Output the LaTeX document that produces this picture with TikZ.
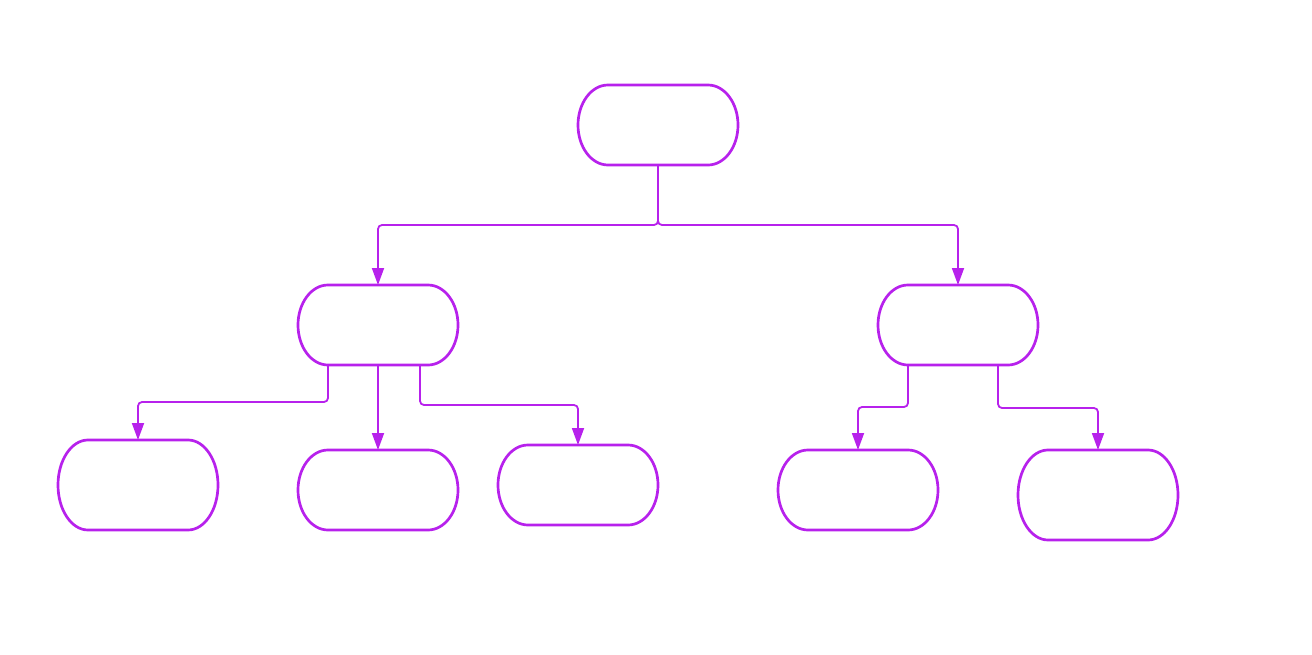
\documentclass[tikz,border=0pt]{standalone}
\usetikzlibrary{arrows.meta}
\definecolor{treecol}{RGB}{183,33,236}
\tikzset{
  box/.style={minimum width=160pt, minimum height=80pt, inner sep=0pt, outer sep=0pt},
  tall/.style={minimum height=90pt},
  outline/.style={draw=treecol, line width=2.7pt},
  link/.style={draw=treecol, line width=1.8pt, rounded corners=4pt,
    -{Triangle[width=12pt,length=17pt]}}
}
\begin{document}
\begin{tikzpicture}[x=1pt, y=-1pt]
      \useasboundingbox (0, 0) rectangle (1312, 654);
      \node[box] (root) at (658, 125) {};
      \node[box] (left) at (378, 325) {};
      \node[box] (right) at (958, 325) {};
      \node[box, tall] (leftA) at (138, 485) {};
      \node[box] (leftB) at (378, 490) {};
      \node[box] (leftC) at (578, 485) {};
      \node[box] (rightA) at (858, 490) {};
      \node[box, tall] (rightB) at (1098, 495) {};
      % pill outlines with oval ends
      \foreach \n/\r in {root/40, left/40, right/40, leftA/45, leftB/40,
                         leftC/40, rightA/40, rightB/45}
        \draw[outline] ([xshift=30pt]\n.north west) -- ([xshift=-30pt]\n.north east)
          arc[start angle=90, end angle=-90, x radius=30pt, y radius=\r pt]
          -- ([xshift=30pt]\n.south west)
          arc[start angle=270, end angle=90, x radius=30pt, y radius=\r pt] -- cycle;
      \draw[link] (root.south) -- ++(0, 60) -| (left.north);
      \draw[link] (root.south) -- ++(0, 60) -| (right.north);
      \draw[link] ([xshift=-50pt]left.south) -- ++(0, 37) -| (leftA.north);
      \draw[link] (left.south) -- (leftB.north);
      \draw[link] ([xshift=42pt]left.south) -- ++(0, 40) -| (leftC.north);
      \draw[link] ([xshift=-50pt]right.south) -- ++(0, 42) -| (rightA.north);
      \draw[link] ([xshift=40pt]right.south) -- ++(0, 43) -| (rightB.north);
    \end{tikzpicture}
\end{document}
